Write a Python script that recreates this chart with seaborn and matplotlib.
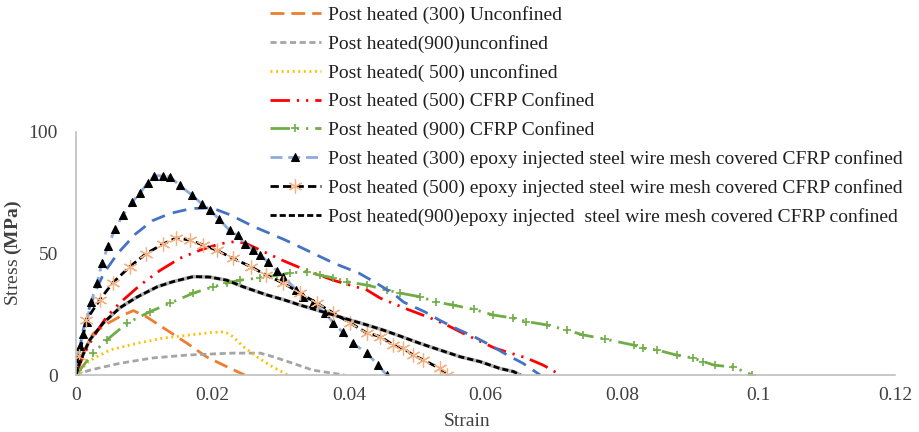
import numpy as np
import pandas as pd
import matplotlib
matplotlib.use("Agg")
import matplotlib.pyplot as plt
import seaborn as sns

# ---------------- data ----------------
labels = [
    "Post heated (300) Unconfined",
    "Post heated(900)unconfined",
    "Post heated( 500) unconfined",
    "Post heated (500) CFRP Confined",
    "Post heated (900) CFRP Confined",
    "Post heated (300) epoxy injected steel wire mesh covered CFRP confined",
    "Post heated (500) epoxy injected steel wire mesh covered CFRP confined",
    "Post heated(900)epoxy injected  steel wire mesh covered CFRP confined",
]

x_u300 = [0, 0.001, 0.0025, 0.0045, 0.0064, 0.0084, 0.0103, 0.0133, 0.0163, 0.0191, 0.0221, 0.0247]
y_u300 = [0, 9, 17, 21, 24, 26.5, 24, 18.5, 13, 7.5, 3.4, 0]

x_u900 = [0, 0.002, 0.0064, 0.0112, 0.0163, 0.0211, 0.023, 0.027, 0.0289, 0.0318, 0.0347, 0.0393]
y_u900 = [0, 2, 4.8, 7, 8.2, 8.8, 9, 9, 7.5, 4.8, 2, 0]

x_u500 = [0, 0.002, 0.005, 0.0089, 0.0128, 0.0167, 0.0196, 0.0218, 0.023, 0.0245, 0.0265, 0.0284, 0.031]
y_u500 = [0, 6, 10.3, 13, 15.2, 16.5, 17.4, 17.8, 15.8, 11.7, 7.5, 4, 0]

x_c500 = [0, 0.0005, 0.001, 0.002, 0.0031, 0.0045, 0.0064, 0.0094, 0.0123, 0.0152, 0.0182, 0.0211,
          0.0235, 0.025, 0.027, 0.0304, 0.0338, 0.0377, 0.0426, 0.0446, 0.0486, 0.0519, 0.0543,
          0.0572, 0.0614, 0.066, 0.0685, 0.071]
y_c500 = [0, 4, 7.5, 13, 18, 24, 29.6, 37, 43, 48, 51.4, 54,
          55, 54, 51.4, 47, 43, 39, 35, 31.6, 27, 23.5, 20.6,
          16.5, 11, 7, 4, 0]

x_c900 = [0, 0.0025, 0.0045, 0.0075, 0.0108, 0.0138, 0.0172, 0.0201, 0.0221, 0.024, 0.027, 0.0294,
          0.0314, 0.0338, 0.0358, 0.0377, 0.0397, 0.0426, 0.0455, 0.0475, 0.0504, 0.0528, 0.0552,
          0.0583, 0.0611, 0.0641, 0.066, 0.069, 0.0719, 0.0743, 0.0775, 0.0817, 0.0831, 0.0851,
          0.088, 0.0904, 0.0919, 0.0936, 0.0963, 0.0991]
y_c900 = [0, 9, 14.4, 21.4, 26, 29.6, 33.7, 36.3, 37.8, 39, 40, 41,
          42, 42.5, 41, 40, 38.4, 37, 35, 33.7, 32.2, 30, 28.8,
          27, 24.7, 23.4, 22, 20.6, 18.5, 16.5, 14.8, 12.3, 11, 10.3,
          8.2, 7, 5.5, 4, 3.3, 0]

x_e300 = [0, 0.0002, 0.0006, 0.001, 0.0016, 0.0022, 0.0031, 0.0038, 0.0047, 0.0057, 0.0069, 0.0082,
          0.0094, 0.0105, 0.0115, 0.0128, 0.0138, 0.0152, 0.017, 0.0184, 0.0196, 0.021, 0.0225,
          0.0237, 0.0247, 0.026, 0.027, 0.0281, 0.0294, 0.0304, 0.0323, 0.0333, 0.0347, 0.0365,
          0.0377, 0.0391, 0.0406, 0.0426, 0.0443, 0.0455]
y_e300 = [0, 7, 12, 17, 22, 30, 38, 46, 53, 60, 66, 71,
          75, 79, 82, 82, 81.5, 78, 74, 70.5, 68, 64, 59.5,
          57.5, 54, 51.5, 49.5, 46.5, 43, 40.5, 35, 32, 29.5, 25.5,
          21.5, 17.5, 13, 9, 4, 0]

# second (unlabelled) blue dashed curve
x_e300b = [0, 0.0005, 0.001, 0.002, 0.0031, 0.0041, 0.0061, 0.0087, 0.0112, 0.0138, 0.0169, 0.0199,
           0.0225, 0.0261, 0.0307, 0.0337, 0.0378, 0.0414, 0.0439, 0.0465, 0.048, 0.0511, 0.0533,
           0.0558, 0.0583, 0.0607, 0.0632, 0.0655, 0.068]
y_e300b = [0, 10, 18, 28, 36, 42, 50, 58, 63.5, 66.5, 68.5, 68.8,
           66, 61, 55.5, 51.5, 46, 42, 38, 33.5, 30, 26, 22.5,
           19, 15.8, 12.3, 8.2, 4.8, 0]

x_e500 = [0, 0.0005, 0.0015, 0.0035, 0.0054, 0.0079, 0.0103, 0.0128, 0.0147, 0.0167, 0.0186, 0.0206,
          0.023, 0.0256, 0.0279, 0.0304, 0.0328, 0.0353, 0.0377, 0.0402, 0.0426, 0.0446, 0.0465,
          0.0479, 0.0494, 0.0509, 0.0533, 0.0544]
y_e500 = [0, 8, 22.6, 31, 38, 44.6, 50, 54, 56.4, 55.5, 53.5, 51.4,
          48, 44.6, 41, 37.8, 33.7, 29.6, 25.5, 21.4, 17.3, 15.8, 12.3,
          11, 8.2, 6.2, 2.7, 0]

x_e900 = [0, 0.0005, 0.002, 0.004, 0.0064, 0.0089, 0.0119, 0.0142, 0.0172, 0.0196, 0.0221, 0.0245,
          0.0279, 0.0304, 0.0328, 0.0353, 0.0377, 0.0402, 0.0426, 0.045, 0.0475, 0.0504, 0.0533,
          0.0563, 0.0592, 0.0621, 0.0641, 0.0651]
y_e900 = [0, 5, 14.4, 21.4, 27.6, 32, 36.3, 38.4, 40.5, 40.3, 39, 36.3,
          33, 31, 28.8, 26.7, 24.7, 22.6, 20.6, 18.5, 16, 13, 10.3,
          7.5, 5.5, 2.7, 1.4, 0]

x_ticks = [0, 0.02, 0.04, 0.06, 0.08, 0.1, 0.12]
x_ticklabels = ["0", "0.02", "0.04", "0.06", "0.08", "0.1", "0.12"]
y_ticks = [0, 50, 100]

# ---------------- style ----------------
sns.set_theme(style="white")
plt.rcParams["font.family"] = ["Liberation Serif", "DejaVu Serif"]
plt.rcParams["mathtext.fontset"] = "custom"
plt.rcParams["mathtext.rm"] = "Liberation Serif"
plt.rcParams["mathtext.bf"] = "Liberation Serif:bold"

fig = plt.figure(figsize=(9.19, 4.32), dpi=100)
ax = fig.add_axes([76 / 919, 1 - 375 / 432, (895 - 76) / 919, (375 - 132) / 432])

def draw(x, y, **kw):
    sns.lineplot(x=np.array(x), y=np.array(y), ax=ax, sort=False, estimator=None,
                 errorbar=None, **kw)

lw = 2.0
# black-gray underlay
draw(x_e900, y_e900, color="#b0b0b0", linewidth=2.6, label="_nolegend_")
draw(x_u300, y_u300, color="#ED7D31", linewidth=lw, linestyle=(0, (5, 2.5)), label=labels[0])
draw(x_u900, y_u900, color="#A5A5A5", linewidth=lw, linestyle=(0, (2.2, 1.3)), label=labels[1])
draw(x_u500, y_u500, color="#FFC000", linewidth=lw, linestyle=(0, (0.7, 1.3)), label=labels[2])
draw(x_c500, y_c500, color="#FF0000", linewidth=lw,
     linestyle=(0, (7, 2.5, 0.8, 2.5, 0.8, 2.5)), label=labels[3])
draw(x_c900, y_c900, color="#70AD47", linewidth=lw,
     linestyle=(0, (7, 2.5, 0.8, 2.5, 0.8, 2.5)), marker="+", markersize=6,
     markeredgewidth=1.2, markeredgecolor="#70AD47", label=labels[4])
draw(x_e300b, y_e300b, color="#4472C4", linewidth=lw, linestyle=(0, (5, 3)), label="_nolegend_")
draw(x_e300, y_e300, color="#8FAADC", linewidth=lw, linestyle=(0, (4.3, 2.1)), marker="^",
     markersize=5.5, markerfacecolor="black", markeredgecolor="black", label=labels[5])
draw(x_e500, y_e500, color="black", linewidth=lw, linestyle=(0, (3, 1.5)), marker=(6, 2, 0),
     markersize=10, markeredgewidth=0.9, markeredgecolor="#F4B183", label=labels[6])
draw(x_e900, y_e900, color="black", linewidth=lw, linestyle=(0, (2.2, 1.1)), label=labels[7])

ax.set_xlim(0, 0.12)
ax.set_ylim(0, 100)
ax.set_xticks(x_ticks)
ax.set_xticklabels(x_ticklabels)
ax.set_yticks(y_ticks)
ax.tick_params(axis="both", length=0, labelsize=14, colors="#404040")
ax.tick_params(axis="x", pad=9)
ax.tick_params(axis="y", pad=13)
for s in ["top", "right"]:
    ax.spines[s].set_visible(False)
for s in ["left", "bottom"]:
    ax.spines[s].set_color("#BFBFBF")
    ax.spines[s].set_linewidth(1.2)
ax.grid(False)

ax.set_xlabel("Strain", fontsize=14, color="#404040")
ax.set_ylabel(r"Stress $\mathbf{(MPa)}$", fontsize=14, color="#404040")
ax.xaxis.set_label_coords(0.477, -0.155)
ax.yaxis.set_label_coords(-0.064, 0.5)

handles, labs = ax.get_legend_handles_labels()
order = [labs.index(l) for l in labels]
leg = ax.legend([handles[i] for i in order], [labs[i] for i in order],
                loc="upper left", bbox_to_anchor=(270 / 919, 1 - 6 / 432),
                bbox_transform=fig.transFigure, frameon=False, fontsize=14,
                borderpad=0, borderaxespad=0, labelspacing=0.56, handlelength=2.6,
                handletextpad=0.4, numpoints=1)
for t in leg.get_texts():
    t.set_color("#202020")

fig.savefig("out.png", dpi=100)
